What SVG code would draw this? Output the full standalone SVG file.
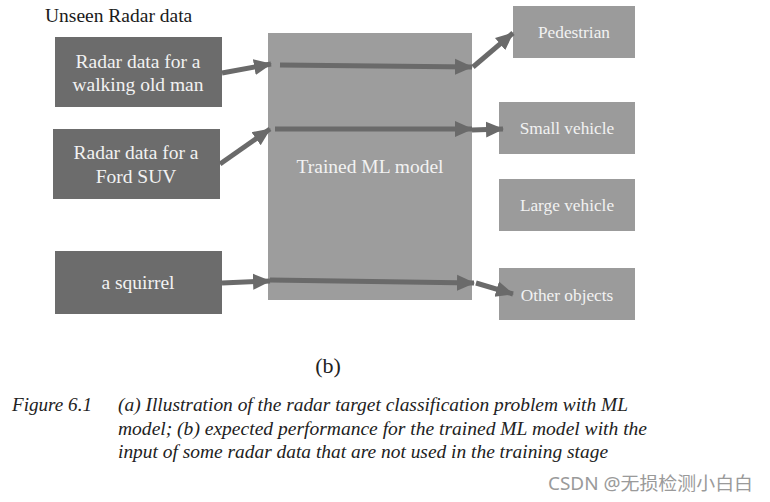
<svg xmlns="http://www.w3.org/2000/svg" width="770" height="502" viewBox="0 0 770 502">
<style>
.dark{fill:#6c6c6c}
.light{fill:#9b9b9b}
.model{fill:#9d9d9d}
.lbl{font-family:"Liberation Serif","Times New Roman",serif;font-size:19.5px;fill:#f2f2f2;text-anchor:middle}
.olbl{font-family:"Liberation Serif","Times New Roman",serif;font-size:17.3px;fill:#f2f2f2;text-anchor:middle}
.conn{stroke:#6a6a6a;stroke-width:5;fill:none}
.cap{font-family:"Liberation Serif","Times New Roman",serif;font-size:18px;fill:#222;font-style:italic}
</style>
<defs>
<marker id="ah" markerUnits="userSpaceOnUse" markerWidth="18" markerHeight="18" viewBox="0 0 18 18" refX="17" refY="9" orient="auto">
<path d="M0,1 L18,9 L0,17 Z" fill="#6a6a6a"/>
</marker>
</defs>
<rect width="770" height="502" fill="#ffffff"/>
<text x="45" y="22" font-family="Liberation Serif, Times New Roman, serif" font-size="19.5" fill="#1a1a1a">Unseen Radar data</text>
<g id="in1"><rect class="dark" x="55" y="37" width="167" height="70"/><text class="lbl" x="138" y="68">Radar data for a</text><text class="lbl" x="138" y="91">walking old man</text></g>
<g id="in2"><rect class="dark" x="53" y="129" width="167" height="70"/><text class="lbl" x="136" y="159">Radar data for a</text><text class="lbl" x="136" y="183">Ford SUV</text></g>
<g id="in3"><rect class="dark" x="55" y="251" width="167" height="63"/><text class="lbl" x="138" y="289">a squirrel</text></g>
<g id="model"><rect class="model" x="268" y="33" width="204" height="267"/><text class="lbl" x="370" y="173">Trained ML model</text></g>
<g id="out1"><rect class="light" x="513" y="6" width="122" height="52"/><text class="olbl" x="574" y="38">Pedestrian</text></g>
<g id="out2"><rect class="light" x="499" y="102" width="136" height="52"/><text class="olbl" x="567" y="134">Small vehicle</text></g>
<g id="out3"><rect class="light" x="499" y="179" width="136" height="52"/><text class="olbl" x="567" y="211">Large vehicle</text></g>
<g id="out4"><rect class="light" x="499" y="268" width="136" height="52"/><text class="olbl" x="567" y="301">Other objects</text></g>
<g id="connectors">
<line class="conn" x1="222" y1="73" x2="271" y2="64" marker-end="url(#ah)"/>
<line class="conn" x1="280" y1="65" x2="472" y2="67" marker-end="url(#ah)"/>
<line class="conn" x1="220" y1="164" x2="270" y2="129" marker-end="url(#ah)"/>
<line class="conn" x1="275" y1="129" x2="472" y2="129" marker-end="url(#ah)"/>
<line class="conn" x1="222" y1="283" x2="270" y2="281" marker-end="url(#ah)"/>
<line class="conn" x1="270" y1="280" x2="474" y2="283" marker-end="url(#ah)"/>
<line class="conn" x1="473" y1="67" x2="513" y2="33" marker-end="url(#ah)"/>
<line class="conn" x1="472" y1="130" x2="503" y2="129" marker-end="url(#ah)"/>
<line class="conn" x1="476" y1="283" x2="513" y2="294" marker-end="url(#ah)"/>
</g>
<text x="328" y="373" font-family="Liberation Serif, Times New Roman, serif" font-size="22" fill="#222" text-anchor="middle">(b)</text>
<text class="cap" x="12" y="411" textLength="80" lengthAdjust="spacingAndGlyphs">Figure 6.1</text>
<text class="cap" x="118" y="411" textLength="510" lengthAdjust="spacingAndGlyphs">(a) Illustration of the radar target classification problem with ML</text>
<text class="cap" x="118" y="435" textLength="529" lengthAdjust="spacingAndGlyphs">model; (b) expected performance for the trained ML model with the</text>
<text class="cap" x="118" y="458" textLength="490" lengthAdjust="spacingAndGlyphs">input of some radar data that are not used in the training stage</text>
<text x="548" y="490" font-family="Noto Sans, Noto Sans CJK SC, sans-serif" font-size="18" fill="#9a9a9a" textLength="205" lengthAdjust="spacingAndGlyphs">CSDN @无损检测小白白</text>
</svg>
